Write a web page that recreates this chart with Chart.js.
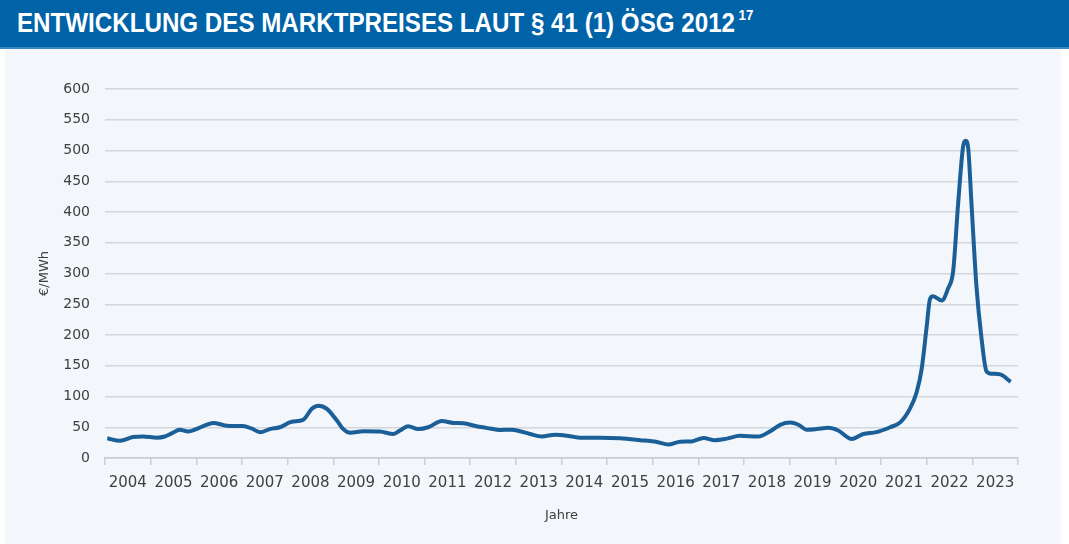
<!DOCTYPE html>
<html>
<head>
<meta charset="utf-8">
<script src="https://cdn.jsdelivr.net/npm/chart.js@4"></script>
<style>
  html, body { margin: 0; padding: 0; background: #ffffff; }
  #page { position: relative; width: 1069px; height: 544px; overflow: hidden; }
  #titlebar {
    position: absolute; left: 0; top: 0; width: 1069px; height: 47px;
    background: #0063a7; border-bottom: 2px solid #3a86c0;
  }
  #titlebar h1 {
    margin: 0; position: absolute; left: 17px; top: 0; line-height: 47px;
    font-family: "Liberation Sans", Arial, sans-serif;
    font-weight: bold; font-size: 27px; color: #ffffff;
    white-space: nowrap; transform-origin: 0 50%;
  }
  #titlebar sup { font-size: 15px; position: relative; top: -3px; margin-left: 4px; vertical-align: 9px; line-height: 0; }
  #panel {
    position: absolute; left: 5px; top: 49px; width: 1056px; height: 495px;
    background: #f3f6fa;
  }
  #wrap { position: absolute; left: 0; top: 48px; width: 1069px; height: 496px; }
</style>
</head>
<body>
<div id="page">
  <div id="titlebar"><h1 id="titel"><span id="haupt">ENTWICKLUNG DES MARKTPREISES LAUT § 41 (1) ÖSG 2012</span><sup>17</sup></h1></div>
  <div id="panel"></div>
  <div id="wrap"><canvas id="marktpreisChart" width="1069" height="496"></canvas></div>
</div>
<script>
// Zeitpunkte (Jahr als Dezimalzahl) und Marktpreise in €/MWh
const zeitpunkte = [
  2004.05, 2004.33, 2004.61, 2004.83, 2005.14, 2005.31, 2005.46, 2005.64, 2005.82, 2006.00,
  2006.19, 2006.37, 2006.63, 2006.81, 2007.02, 2007.21, 2007.40, 2007.61, 2007.83, 2008.09,
  2008.34, 2008.53, 2008.67, 2008.86, 2009.08, 2009.22, 2009.37, 2009.66, 2010.02, 2010.32,
  2010.46, 2010.64, 2010.86, 2011.08, 2011.38, 2011.63, 2011.85, 2012.14, 2012.43, 2012.65,
  2012.91, 2013.09, 2013.31, 2013.57, 2013.86, 2014.19, 2014.41, 2014.84, 2015.28, 2015.72,
  2016.09, 2016.34, 2016.60, 2016.85, 2017.11, 2017.36, 2017.62, 2017.91, 2018.31, 2018.57,
  2018.79, 2019.01, 2019.19, 2019.37, 2019.59, 2019.84, 2020.06, 2020.36, 2020.61, 2020.90,
  2021.20, 2021.42, 2021.63, 2021.78, 2021.89, 2022.00, 2022.07, 2022.14, 2022.33, 2022.47,
  2022.58, 2022.69, 2022.80, 2022.85, 2022.91, 2022.98, 2023.09, 2023.20, 2023.31, 2023.42,
  2023.61, 2023.84
];
const preise = [
  32, 28, 34, 35, 33, 35, 40, 46, 43, 47,
  53, 57, 53, 52, 52, 48, 42, 47, 50, 59,
  62, 80, 85, 80, 61, 47, 41, 43.5, 43, 39,
  44.6, 51.6, 47, 50, 60, 57, 56.5, 51.6, 48, 45.6,
  46, 43.5, 39, 35, 38, 35.5, 33, 33, 32, 29,
  26, 22, 26.6, 27, 32.6, 29, 31.5, 36, 35, 43.5,
  54, 57.6, 54, 46, 47, 49, 44.7, 31, 39, 42,
  50, 58, 80, 107, 145, 214, 258, 263, 256, 276,
  304, 415, 508, 516, 503, 415, 279, 195, 141, 137,
  136, 124
];
const jahre = [];
for (let j = 2004; j <= 2023; j++) { jahre.push(j); }
const yTicks = [0, 50, 100, 150, 200, 250, 300, 350, 400, 450, 500, 550, 600];

// Titel schmaler machen (Schrift im Original ist condensed)
let haupt = document.getElementById('haupt');
let faktor = 718 / haupt.getBoundingClientRect().width;
document.getElementById('titel').style.transform = 'scaleX(' + faktor + ')';

let punkte = [];
for (let i = 0; i < zeitpunkte.length; i++) {
  punkte.push({ x: zeitpunkte[i], y: preise[i] });
}

const schrift = "'DejaVu Sans', Verdana, sans-serif";
const ctx = document.getElementById('marktpreisChart');

new Chart(ctx, {
  type: 'line',
  data: {
    datasets: [{
      label: 'Marktpreis',
      data: punkte,
      borderColor: '#1b5f99',
      borderWidth: 4,
      pointRadius: 0,
      fill: false,
      cubicInterpolationMode: 'monotone'
    }]
  },
  options: {
    responsive: false,
    animation: false,
    layout: { padding: { left: 0, right: 51, top: 41, bottom: 0 } },
    plugins: { legend: { display: false }, tooltip: { enabled: false } },
    scales: {
      x: {
        type: 'linear',
        min: 2004,
        max: 2024,
        afterBuildTicks: function(scale) {
          // Striche an den Jahresgrenzen, Beschriftung in der Jahresmitte
          let t = [];
          for (let j = 0; j <= jahre.length; j++) {
            t.push({ value: 2004 + j });
            if (j < jahre.length) t.push({ value: jahre[j] + 0.5 });
          }
          scale.ticks = t;
        },
        afterFit: function(scale) { scale.height = 86; },
        ticks: {
          autoSkip: false,
          maxRotation: 0,
          padding: 9,
          color: '#404040',
          font: { family: schrift, size: 15 },
          callback: function(v) { return (v % 1 !== 0) ? String(Math.floor(v)) : ''; }
        },
        grid: {
          drawOnChartArea: false,
          tickLength: 7,
          lineWidth: 1.5,
          color: function(c) {
            return (c.tick && c.tick.value % 1 === 0) ? '#c9ccd2' : 'rgba(0,0,0,0)';
          }
        },
        border: { color: '#c9ccd2', width: 1.5 },
        title: {
          display: true,
          text: 'Jahre',
          color: '#404040',
          font: { family: schrift, size: 13 },
          padding: { top: 0, bottom: 21 }
        }
      },
      y: {
        min: 0,
        max: 600,
        afterBuildTicks: function(scale) {
          scale.ticks = yTicks.map(function(v) { return { value: v }; });
        },
        afterFit: function(scale) { scale.width = 105; },
        ticks: {
          padding: 15,
          color: '#404040',
          font: { family: schrift, size: 14 }
        },
        grid: {
          drawTicks: false,
          color: '#d3d6dc',
          lineWidth: 1.5
        },
        border: { display: false },
        title: {
          display: true,
          text: '€/MWh',
          color: '#404040',
          font: { family: schrift, size: 13 },
          padding: { top: 37, bottom: 0 }
        }
      }
    }
  }
});
</script>
</body>
</html>
